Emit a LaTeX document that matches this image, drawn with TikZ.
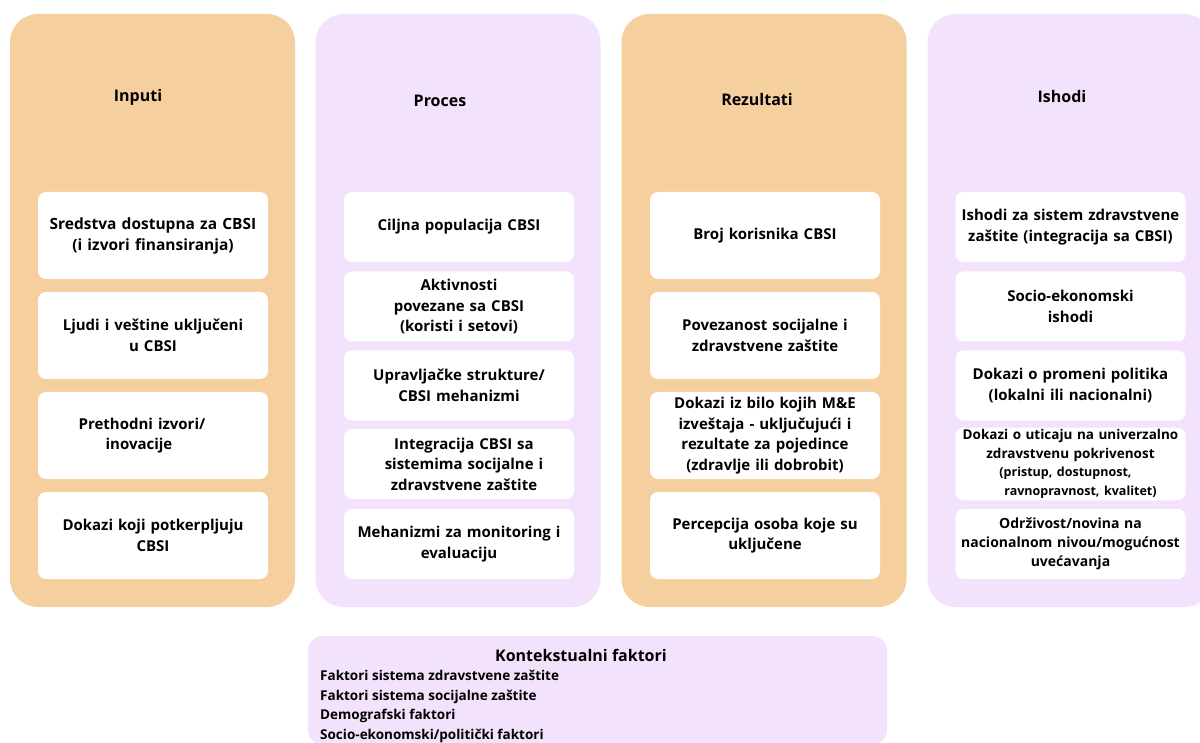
\documentclass[tikz,border=0pt]{standalone}
\usepackage{fontspec}
\setmainfont{Open Sans}
\usepackage{xcolor}
\definecolor{lightorange}{HTML}{F6CF9F}
\definecolor{lightpurple}{HTML}{F3E2FC}
\tikzset{
    column-box/.style = {rectangle, rounded corners=28pt, minimum width=285pt, minimum height=593pt, inner sep=0pt},
    column-title/.style = {font=\bfseries\fontsize{16}{19}\selectfont},
    item-box/.style = {fill=white, rectangle, rounded corners=8pt, minimum width=230pt, inner sep=2pt, align=center, text width=226pt, font=\bfseries\fontsize{15}{20.5}\selectfont},
    tall-item/.style = {item-box, minimum height=87pt},
    short-item/.style = {item-box, minimum height=70pt},
}

\begin{document}
\begin{tikzpicture}[x=1pt, y=-1pt]
\useasboundingbox (0,0) rectangle (1200,743);
% columns
\node[column-box, fill=lightorange] (inputi) at (152.5,310.5) {};
\node[column-box, fill=lightpurple] (proces) at (458,310.5) {};
\node[column-box, fill=lightorange] (rezultati) at (764,310.5) {};
\node[column-box, fill=lightpurple] (ishodi) at (1070,310.5) {};
\node[column-title] (t-inputi) at (138,97) {Inputi};
\node[column-title] (t-proces) at (440,101) {Proces};
\node[column-title] (t-rezultati) at (757,100) {Rezultati};
\node[column-title] (t-ishodi) at (1062,97) {Ishodi};

% Inputi
\node[tall-item, font=\bfseries\fontsize{15.5}{21}\selectfont] (in1) at (153,235.5) {Sredstva dostupna za CBSI\\(i izvori finansiranja)};
\node[tall-item] (in2) at (153,335.5) {Ljudi i veštine uključeni\\u CBSI};
\node[tall-item] (in3) at (153,435.5) {\hspace*{-22pt}Prethodni izvori/\\\hspace*{-28pt}inovacije};
\node[tall-item] (in4) at (153,535.5) {Dokazi koji potkerpljuju\\CBSI};

% Proces
\node[short-item] (pr1) at (459,227) {Ciljna populacija CBSI};
\node[short-item] (pr2) at (459,306.5) {Aktivnosti\\povezane sa CBSI\\(koristi i setovi)};
\node[short-item] (pr3) at (459,385.5) {Upravljačke strukture/\\CBSI mehanizmi};
\node[short-item] (pr4) at (459,464) {\hspace*{10pt}Integracija CBSI sa\\\hspace*{10pt}sistemima socijalne i\\\hspace*{10pt}zdravstvene zaštite};
\node[short-item] (pr5) at (459,544) {Mehanizmi za monitoring i\\evaluaciju};

% Rezultati
\node[tall-item] (re1) at (765,235.5) {Broj korisnika CBSI};
\node[tall-item] (re2) at (765,335.5) {Povezanost socijalne i\\zdravstvene zaštite};
\node[tall-item] (re3) at (765,435.5) {Dokazi iz bilo kojih M\&E\\izveštaja - uključujući i\\rezultate za pojedince\\(zdravlje ili dobrobit)};
\node[tall-item] (re4) at (765,535.5) {Percepcija osoba koje su\\uključene};

% Ishodi
\node[short-item] (is1) at (1070.5,227) {Ishodi za sistem zdravstvene\\zaštite (integracija sa CBSI)};
\node[short-item] (is2) at (1070.5,306.5) {Socio-ekonomski\\ishodi};
\node[short-item] (is3) at (1070.5,385.5) {Dokazi o promeni politika\\(lokalni ili nacionalni)};
\node[short-item, font=\bfseries\fontsize{13.5}{18.5}\selectfont] (is4) at (1070.5,464) {Dokazi o uticaju na univerzalno\\zdravstvenu pokrivenost\\{\fontsize{12.5}{18}\selectfont \hspace*{-10pt}(pristup, dostupnost,}\\{\fontsize{12.5}{18}\selectfont \hspace*{20pt}ravnopravnost, kvalitet)}};
\node[short-item, font=\bfseries\fontsize{14}{19}\selectfont] (is5) at (1070.5,544) {Održivost/novina na\\nacionalnom nivou/mogućnost\\uvećavanja};

% contextual factors
\fill[lightpurple, rounded corners=15pt] (308,636) rectangle (887,745);
\node[column-title] (kontekst) at (581,655) {Kontekstualni faktori};
\node[anchor=north west, align=left, inner sep=0pt, font=\bfseries\fontsize{13.5}{19.5}\selectfont] (faktori) at (320,670) {Faktori sistema zdravstvene zaštite\\Faktori sistema socijalne zaštite\\Demografski faktori\\Socio-ekonomski/politički faktori};
\end{tikzpicture}
\end{document}
